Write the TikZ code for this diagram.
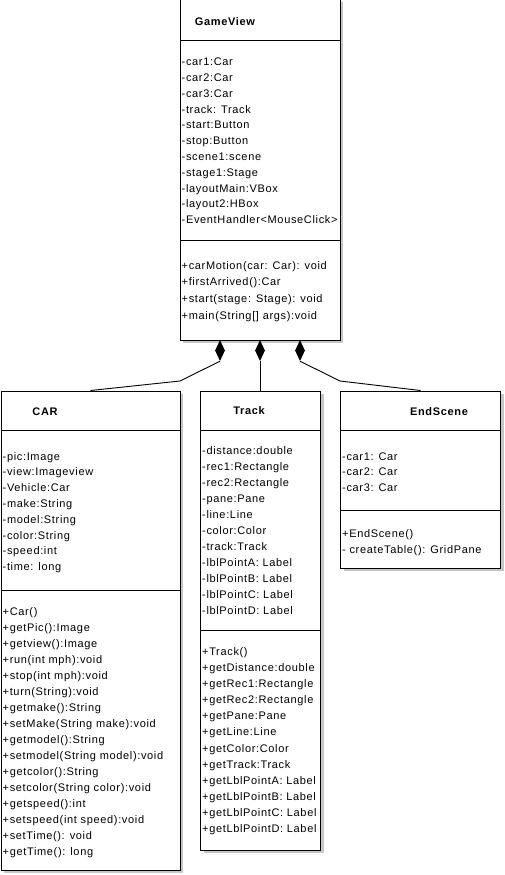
\documentclass[tikz,border=0pt]{standalone}
\usepackage{fontspec}
\setmainfont{Liberation Sans}
\newfontfamily\umlfont[LetterSpace=6]{Liberation Sans}
\usetikzlibrary{shapes.geometric,shadows}

% one text node per member line: prefix, x, first baseline, line step, list
\newcommand\umlmembers[5]{%
  \foreach \mtext [count=\i] in {#5}{%
    \node[member] (#1\i) at (#2,{#3+#4*(\i-1)}) {\mtext};}}

\begin{document}
\begin{tikzpicture}[x=1pt,y=-1pt,
  classbox/.style={draw=black, line width=1pt, fill=white, rectangle, inner sep=0pt,
    drop shadow={shadow xshift=3pt, shadow yshift=-3pt, fill=black!22, opacity=1}},
  divider/.style={draw=black, line width=1pt},
  member/.style={anchor=base west, inner sep=0pt, font=\umlfont\fontsize{11}{13}\selectfont},
  classname/.style={anchor=base, inner sep=0pt, font=\umlfont\bfseries\fontsize{11}{13}\selectfont},
  comp/.style={diamond, fill=black, draw=none, inner sep=0pt, minimum width=10pt, minimum height=21pt},
  link/.style={draw=black, line width=0.9pt}]

\useasboundingbox (0,0) rectangle (505,875);

% class boxes
\node[classbox, minimum width=160pt, minimum height=341pt] (gv)    at (260,169.5) {};
\node[classbox, minimum width=179pt, minimum height=479pt] (car)   at (90.5,630.5) {};
\node[classbox, minimum width=120pt, minimum height=459pt] (track) at (260.5,620.5) {};
\node[classbox, minimum width=160pt, minimum height=177pt] (end)   at (420.5,479.5) {};

% compartment separators
\draw[divider] (180,40.5) -- (340,40.5);
\draw[divider] (180,240.5) -- (340,240.5);
\draw[divider] (1,430.5) -- (180,430.5);
\draw[divider] (1,590.5) -- (180,590.5);
\draw[divider] (200.5,430.5) -- (320.5,430.5);
\draw[divider] (200.5,630) -- (320.5,630);
\draw[divider] (340.5,430.5) -- (500.5,430.5);
\draw[divider] (340.5,510.5) -- (500.5,510.5);

% class names
\node[classname] (gvname)    at (225,26) {GameView};
\node[classname] (carname)   at (45,415.4) {CAR};
\node[classname] (trackname) at (249,414.6) {Track};
\node[classname] (endname)   at (439,415.4) {EndScene};

% GameView
\umlmembers{gva}{181.5}{65.7}{15.8}{{-car1:Car},{-car2:Car},{-car3:Car},{-track: Track},
  {-start:Button},{-stop:Button},{-scene1:scene},{-stage1:Stage},{-layoutMain:VBox},
  {-layout2:HBox},{-EventHandler<MouseClick>}}
\umlmembers{gvm}{181.5}{269}{16.67}{{+carMotion(car: Car): void},{+firstArrived():Car},
  {+start(stage: Stage): void},{+main(String[] args):void}}

% CAR
\umlmembers{cara}{2.5}{460}{15.8}{{-pic:Image},{-view:Imageview},{-Vehicle:Car},
  {-make:String},{-model:String},{-color:String},{-speed:int},{-time: long}}
\umlmembers{carm}{2.5}{615.7}{16}{{+Car()},{+getPic():Image},{+getview():Image},
  {+run(int mph):void},{+stop(int mph):void},{+turn(String):void},{+getmake():String},
  {+setMake(String make):void},{+getmodel():String},{+setmodel(String model):void},
  {+getcolor():String},{+setcolor(String color):void},{+getspeed():int},
  {+setspeed(int speed):void},{+setTime(): void},{+getTime(): long}}

% Track
\umlmembers{tra}{202}{454.7}{16}{{-distance:double},{-rec1:Rectangle},{-rec2:Rectangle},
  {-pane:Pane},{-line:Line},{-color:Color},{-track:Track},{-lblPointA: Label},
  {-lblPointB: Label},{-lblPointC: Label},{-lblPointD: Label}}
\umlmembers{trm}{202}{655.7}{16.05}{{+Track()},{+getDistance:double},{+getRec1:Rectangle},
  {+getRec2:Rectangle},{+getPane:Pane},{+getLine:Line},{+getColor:Color},
  {+getTrack:Track},{+getLblPointA: Label},{+getLblPointB: Label},
  {+getLblPointC: Label},{+getLblPointD: Label}}

% EndScene
\umlmembers{ena}{342}{460}{15.7}{{-car1: Car},{-car2: Car},{-car3: Car}}
\umlmembers{enm}{342}{537}{16.7}{{+EndScene()},{- createTable(): GridPane}}

% composition diamonds on GameView
\node[comp] (d1) at (220,350.5) {};
\node[comp] (d2) at (260,350.5) {};
\node[comp] (d3) at (300,350.5) {};

% bends of the side connectors
\coordinate (b1) at (180,381);
\coordinate (b3) at (340,381);

\draw[link] (car.north) -- (b1) -- (d1.south);
\draw[link] (track.north -| d2.south) -- (d2.south);
\draw[link] (end.north) -- (b3) -- (d3.south);

\end{tikzpicture}
\end{document}
